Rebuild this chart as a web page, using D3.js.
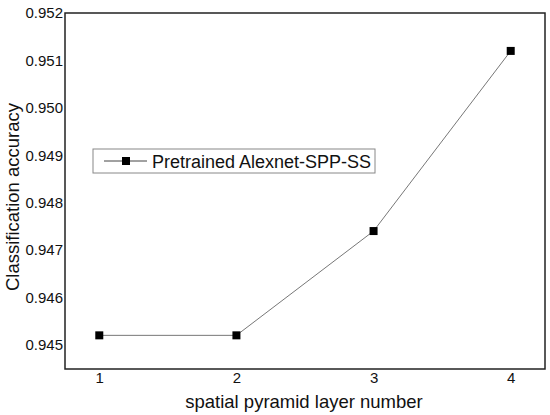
<!DOCTYPE html>
<html><head><meta charset="utf-8">
<script src="https://cdn.jsdelivr.net/npm/d3@7"></script>
<style>body{margin:0;background:#fff}svg{display:block}text{font-family:"Liberation Sans",Arial,sans-serif}</style>
</head><body><svg id="c" width="550" height="415"></svg>
<script>
const layers = [1, 2, 3, 4];
const accuracy = [0.9452, 0.9452, 0.9474, 0.9512];
const yTicks = [0.945, 0.946, 0.947, 0.948, 0.949, 0.950, 0.951, 0.952];
const seriesName = "Pretrained Alexnet-SPP-SS";

const svg = d3.select("#c");
const L = 65, T = 13, R = 545, B = 369;
const x = d3.scaleLinear().domain([0.75, 4.25]).range([L, R]);
const y = d3.scaleLinear().domain([0.94449, 0.952]).range([B, T]);

svg.append("rect").attr("x", L).attr("y", T).attr("width", R - L).attr("height", B - T)
  .attr("fill", "none").attr("stroke", "#222").attr("stroke-width", 1.5);

const xa = svg.append("g").attr("transform", `translate(0,${B})`)
  .call(d3.axisBottom(x).tickValues(layers).tickSize(0).tickPadding(3).tickFormat(d3.format("d")));
xa.select(".domain").remove();
xa.selectAll("text").attr("font-size", 15).attr("fill", "#111");

const ya = svg.append("g").attr("transform", `translate(${L},0)`)
  .call(d3.axisLeft(y).tickValues(yTicks).tickSize(0).tickPadding(2).tickFormat(d3.format(".3f")));
ya.select(".domain").remove();
ya.selectAll("text").attr("font-size", 15).attr("fill", "#111");

svg.append("text").attr("x", (L + R) / 2 - 1).attr("y", 408).attr("text-anchor", "middle")
  .attr("font-size", 18.5).attr("fill", "#111").text("spatial pyramid layer number");
svg.append("text").attr("transform", `translate(19,${(T + B) / 2 + 6}) rotate(-90)`).attr("text-anchor", "middle")
  .attr("font-size", 18.5).attr("fill", "#111").text("Classification accuracy");

const line = d3.line().x((d, i) => x(layers[i])).y(d => y(d));
svg.append("path").datum(accuracy).attr("d", line).attr("fill", "none")
  .attr("stroke", "#777").attr("stroke-width", 1);
svg.selectAll(".m").data(accuracy).join("rect")
  .attr("x", (d, i) => x(layers[i]) - 4).attr("y", d => y(d) - 4)
  .attr("width", 8).attr("height", 8).attr("fill", "#000");

// legend
const lg = svg.append("g");
lg.append("rect").attr("x", 93).attr("y", 149).attr("width", 282).attr("height", 24)
  .attr("fill", "#fff").attr("stroke", "#888").attr("stroke-width", 1);
lg.append("line").attr("x1", 104).attr("x2", 147).attr("y1", 161).attr("y2", 161).attr("stroke", "#444").attr("stroke-width", 1);
lg.append("rect").attr("x", 122).attr("y", 157).attr("width", 8).attr("height", 8).attr("fill", "#000");
lg.append("text").attr("x", 152).attr("y", 167.5).attr("font-size", 18).attr("fill", "#111").text(seriesName);
</script></body></html>
